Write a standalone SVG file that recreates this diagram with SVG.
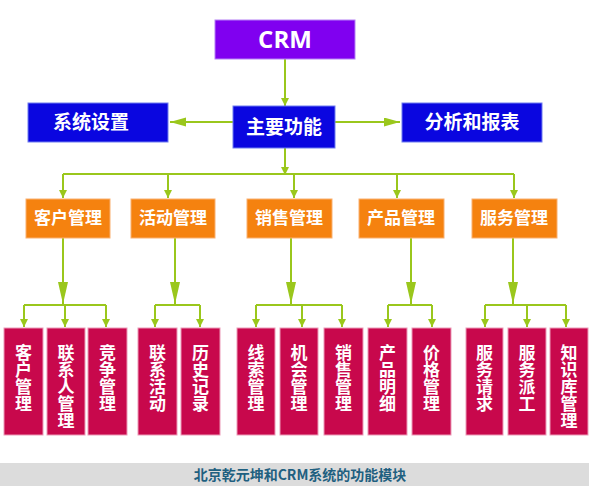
<svg xmlns="http://www.w3.org/2000/svg" width="589" height="500" viewBox="0 0 589 500">
<style>
.cn{font-family:"Noto Sans CJK SC","Noto Sans",sans-serif;font-weight:bold;fill:#fff}
.top{font-size:19px}
.mid{font-size:17px}
.leaf{font-size:17px;writing-mode:vertical-rl;text-anchor:start}
.blue{fill:#0a06e0;stroke:#6f7cf0;stroke-width:1}
.org{fill:#f5820f;stroke:#f9b070;stroke-width:1}
.red{fill:#c8084c;stroke:#ec9ab7;stroke-width:1}
.ln{stroke:#9ac71c;stroke-width:2;fill:none}
</style>
<defs>
<marker id="aS" markerUnits="userSpaceOnUse" markerWidth="9" markerHeight="9" refX="8" refY="4" orient="auto"><path d="M0,0 L8,4 L0,8 z" fill="#9ac71c"/></marker>
<marker id="aM" markerUnits="userSpaceOnUse" markerWidth="17" markerHeight="10" refX="16" refY="4.5" orient="auto"><path d="M0,0 L16,4.5 L0,9 z" fill="#9ac71c"/></marker>
<marker id="aL" markerUnits="userSpaceOnUse" markerWidth="23" markerHeight="11" refX="22" refY="5" orient="auto"><path d="M0,0 L22,5 L0,10 z" fill="#9ac71c"/></marker>
</defs>
<rect width="589" height="500" fill="#fff"/>
<g id="connectors">
<line class="ln" x1="285" y1="59" x2="285" y2="106" marker-end="url(#aS)"/>
<line class="ln" x1="233" y1="122" x2="170" y2="122" marker-end="url(#aM)"/>
<line class="ln" x1="335" y1="122" x2="400" y2="122" marker-end="url(#aM)"/>
<line class="ln" x1="285" y1="148" x2="285" y2="175" marker-end="url(#aS)"/>
<line class="ln" x1="63" y1="174" x2="514" y2="174"/>
<line class="ln" x1="63" y1="174" x2="63" y2="198" marker-end="url(#aS)"/>
<line class="ln" x1="168" y1="174" x2="168" y2="198" marker-end="url(#aS)"/>
<line class="ln" x1="294" y1="174" x2="294" y2="198" marker-end="url(#aS)"/>
<line class="ln" x1="397" y1="174" x2="397" y2="198" marker-end="url(#aS)"/>
<line class="ln" x1="514" y1="174" x2="514" y2="198" marker-end="url(#aS)"/>
<line class="ln" x1="63" y1="238" x2="63" y2="304" marker-end="url(#aL)"/>
<line class="ln" x1="175" y1="238" x2="175" y2="304" marker-end="url(#aL)"/>
<line class="ln" x1="291" y1="238" x2="291" y2="304" marker-end="url(#aL)"/>
<line class="ln" x1="411" y1="238" x2="411" y2="304" marker-end="url(#aL)"/>
<line class="ln" x1="513" y1="238" x2="513" y2="304" marker-end="url(#aL)"/>
<line class="ln" x1="24" y1="305" x2="106" y2="305"/>
<line class="ln" x1="155" y1="305" x2="200" y2="305"/>
<line class="ln" x1="256" y1="305" x2="342" y2="305"/>
<line class="ln" x1="388" y1="305" x2="432" y2="305"/>
<line class="ln" x1="485" y1="305" x2="566" y2="305"/>
<line class="ln" x1="24" y1="305" x2="24" y2="327" marker-end="url(#aS)"/>
<line class="ln" x1="65" y1="305" x2="65" y2="327" marker-end="url(#aS)"/>
<line class="ln" x1="106" y1="305" x2="106" y2="327" marker-end="url(#aS)"/>
<line class="ln" x1="155" y1="305" x2="155" y2="327" marker-end="url(#aS)"/>
<line class="ln" x1="200" y1="305" x2="200" y2="327" marker-end="url(#aS)"/>
<line class="ln" x1="256" y1="305" x2="256" y2="327" marker-end="url(#aS)"/>
<line class="ln" x1="302" y1="305" x2="302" y2="327" marker-end="url(#aS)"/>
<line class="ln" x1="342" y1="305" x2="342" y2="327" marker-end="url(#aS)"/>
<line class="ln" x1="388" y1="305" x2="388" y2="327" marker-end="url(#aS)"/>
<line class="ln" x1="432" y1="305" x2="432" y2="327" marker-end="url(#aS)"/>
<line class="ln" x1="485" y1="305" x2="485" y2="327" marker-end="url(#aS)"/>
<line class="ln" x1="527" y1="305" x2="527" y2="327" marker-end="url(#aS)"/>
<line class="ln" x1="566" y1="305" x2="566" y2="327" marker-end="url(#aS)"/>
</g>
<g id="crm"><rect x="215" y="20" width="140" height="39" fill="#8000f0" stroke="#b580f5"/><text x="285" y="48" text-anchor="middle" font-family="'Open Sans',sans-serif" font-weight="bold" font-size="24" fill="#fff">CRM</text></g>
<g id="main"><rect class="blue" x="233" y="106" width="102" height="42"/><text class="cn top" x="284" y="134" text-anchor="middle">主要功能</text></g>
<g id="sys"><rect class="blue" x="28" y="103" width="140" height="39"/><text class="cn top" x="91" y="129" text-anchor="middle">系统设置</text></g>
<g id="ana"><rect class="blue" x="402" y="103" width="140" height="39"/><text class="cn top" x="472" y="129" text-anchor="middle">分析和报表</text></g>
<g id="m1"><rect class="org" x="26" y="199" width="84" height="39"/><text class="cn mid" x="68" y="224" text-anchor="middle">客户管理</text></g>
<g id="m2"><rect class="org" x="131" y="199" width="84" height="39"/><text class="cn mid" x="173" y="224" text-anchor="middle">活动管理</text></g>
<g id="m3"><rect class="org" x="247" y="199" width="85" height="39"/><text class="cn mid" x="289" y="224" text-anchor="middle">销售管理</text></g>
<g id="m4"><rect class="org" x="359" y="199" width="85" height="39"/><text class="cn mid" x="401" y="224" text-anchor="middle">产品管理</text></g>
<g id="m5"><rect class="org" x="472" y="199" width="85" height="39"/><text class="cn mid" x="514" y="224" text-anchor="middle">服务管理</text></g>
<g id="l1"><rect class="red" x="4" y="328" width="39" height="107"/><text class="cn leaf" x="23.5" y="344">客户管理</text></g>
<g id="l2"><rect class="red" x="47" y="328" width="38" height="107"/><text class="cn leaf" x="66" y="344">联系人管理</text></g>
<g id="l3"><rect class="red" x="88" y="328" width="39" height="107"/><text class="cn leaf" x="107.5" y="344">竞争管理</text></g>
<g id="l4"><rect class="red" x="138" y="328" width="39" height="107"/><text class="cn leaf" x="157.5" y="344">联系活动</text></g>
<g id="l5"><rect class="red" x="181" y="328" width="39" height="107"/><text class="cn leaf" x="200.5" y="344">历史记录</text></g>
<g id="l6"><rect class="red" x="237" y="328" width="38" height="107"/><text class="cn leaf" x="256" y="344">线索管理</text></g>
<g id="l7"><rect class="red" x="280" y="328" width="38" height="107"/><text class="cn leaf" x="299" y="344">机会管理</text></g>
<g id="l8"><rect class="red" x="324" y="328" width="39" height="107"/><text class="cn leaf" x="343.5" y="344">销售管理</text></g>
<g id="l9"><rect class="red" x="368" y="328" width="39" height="107"/><text class="cn leaf" x="387.5" y="344">产品明细</text></g>
<g id="l10"><rect class="red" x="412" y="328" width="39" height="107"/><text class="cn leaf" x="431.5" y="344">价格管理</text></g>
<g id="l11"><rect class="red" x="466" y="328" width="37" height="107"/><text class="cn leaf" x="484.5" y="344">服务请求</text></g>
<g id="l12"><rect class="red" x="508" y="328" width="38" height="107"/><text class="cn leaf" x="527" y="344">服务派工</text></g>
<g id="l13"><rect class="red" x="550" y="328" width="38" height="107"/><text class="cn leaf" x="569" y="344">知识库管理</text></g>
<g id="footer"><rect x="0" y="463" width="589" height="23" fill="#dcdcdc"/><text x="300" y="480" text-anchor="middle" font-family="'Noto Sans CJK SC','Noto Sans',sans-serif" font-weight="bold" font-size="14" fill="#1f6080">北京乾元坤和CRM系统的功能模块</text></g>
</svg>
